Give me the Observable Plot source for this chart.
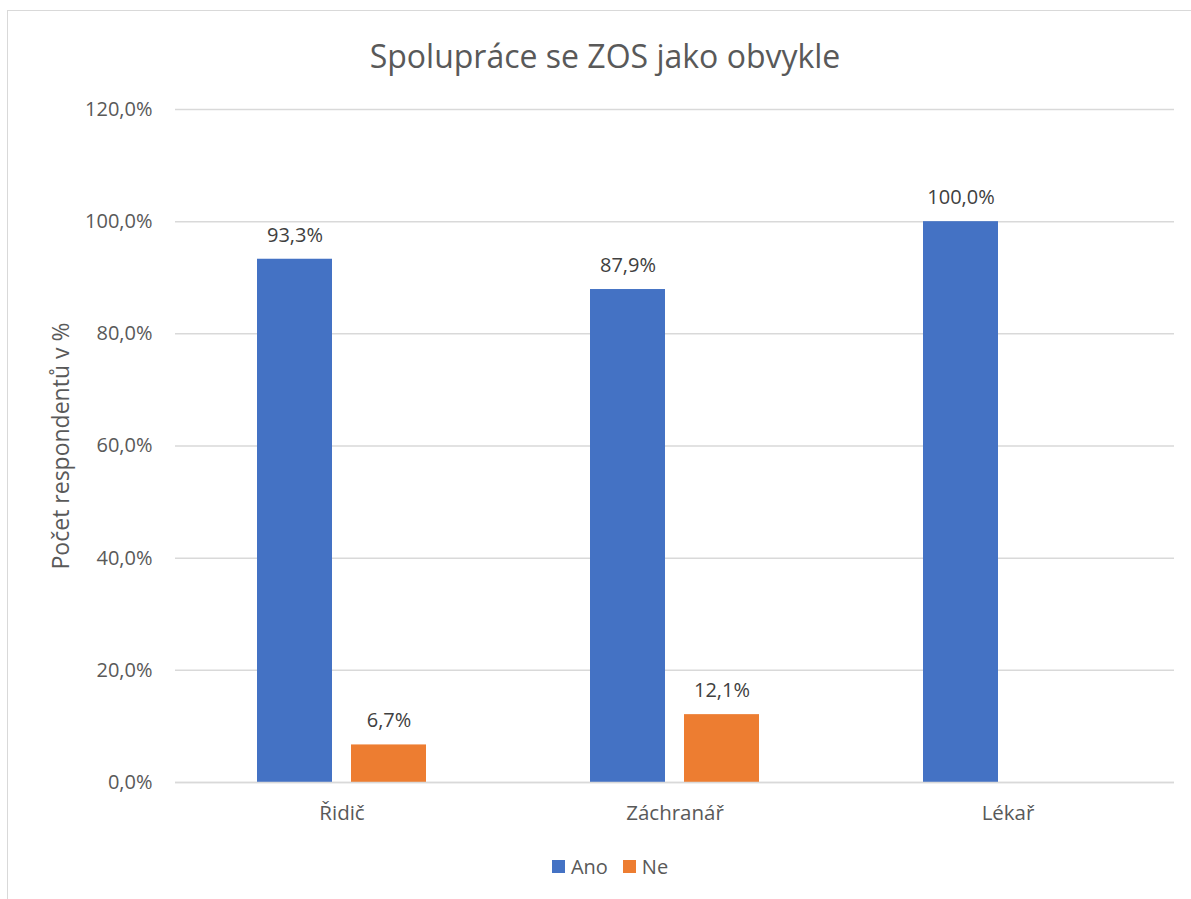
<!DOCTYPE html>
<html>
<head>
<meta charset="utf-8">
<script src="https://cdn.jsdelivr.net/npm/d3@7"></script>
<script src="https://cdn.jsdelivr.net/npm/@observablehq/plot@0.6"></script>
<style>
  html, body { margin: 0; padding: 0; background: #fff; }
  #wrap { position: relative; width: 1191px; height: 899px; overflow: hidden; font-family: "Open Sans", sans-serif; }
  #frame { position: absolute; left: 7px; top: 10px; width: 1200px; height: 910px; border: 1.5px solid #d9d9d9; box-sizing: border-box; }
  #title { position: absolute; left: 0; width: 1210px; top: 34px; line-height: 44px; text-align: center; font-size: 32px; color: #595959; }
  #ylab { position: absolute; left: 60px; top: 446px; transform: translate(-50%, -50%) rotate(-90deg); white-space: nowrap; font-size: 23px; color: #595959; }
  #chart { position: absolute; left: 0; top: 0; }
  #legend { position: absolute; left: 0; width: 1220px; top: 853px; display: flex; justify-content: center; gap: 15px; font-size: 20px; color: #595959; }
  #legend span.item { display: flex; align-items: center; gap: 6px; }
  #legend span.sw { display: inline-block; width: 13px; height: 13px; }
</style>
</head>
<body>
<div id="wrap">
  <div id="frame"></div>
  <div id="chart"></div>
  <div id="title">Spolupráce se ZOS jako obvykle</div>
  <div id="ylab">Počet respondentů v %</div>
  <div id="legend"></div>
</div>
<script>
const categories = ["Řidič", "Záchranář", "Lékař"];
const series = ["Ano", "Ne"];
const valuesAno = [93.3, 87.9, 100.0];
const valuesNe = [6.7, 12.1, 0];
const yTicks = [0, 20, 40, 60, 80, 100, 120];
const colors = ["#4472C4", "#ED7D31"];

const data = [];
categories.forEach((c, i) => {
  data.push({cat: c, series: "Ano", value: valuesAno[i]});
  data.push({cat: c, series: "Ne", value: valuesNe[i]});
});
const fmt = d => d.toFixed(1).replace(".", ",") + "%";

const chart = Plot.plot({
  width: 1191,
  height: 840,
  marginTop: 109,
  marginBottom: 58,
  marginLeft: 175,
  marginRight: 17,
  style: {fontFamily: "'Open Sans', sans-serif", fontSize: "20px", color: "#595959", background: "transparent"},
  fx: {domain: categories, padding: 0, label: null, axis: null},
  x: {domain: series, paddingInner: 0.202, paddingOuter: 0.872, axis: null},
  y: {domain: [0, 120], ticks: yTicks, label: null},
  color: {domain: series, range: colors},
  marks: [
    Plot.gridY(yTicks, {stroke: "#d9d9d9", strokeOpacity: 1, strokeWidth: 1.5}),
    Plot.axisY(yTicks, {tickSize: 0, tickPadding: 23, tickFormat: fmt, fontSize: 20, fill: "#595959", label: null}),
    Plot.axisFx({anchor: "bottom", tickSize: 0, tickPadding: 23, fontSize: 20.5, fill: "#595959", label: null}),
    Plot.barY(data, {fx: "cat", x: "series", y: "value", fill: "series"}),
    Plot.ruleY([0], {stroke: "#d9d9d9", strokeWidth: 1.5}),
    Plot.text(data.filter(d => d.value > 0), {fx: "cat", x: "series", y: "value", text: d => fmt(d.value), dy: -24, fontSize: 20, fill: "#404040"})
  ]
});
document.getElementById("chart").appendChild(chart);

const legend = document.getElementById("legend");
series.forEach((s, i) => {
  const item = document.createElement("span");
  item.className = "item";
  const sw = document.createElement("span");
  sw.className = "sw";
  sw.style.background = colors[i];
  item.appendChild(sw);
  item.appendChild(document.createTextNode(s));
  legend.appendChild(item);
});
</script>
</body>
</html>
